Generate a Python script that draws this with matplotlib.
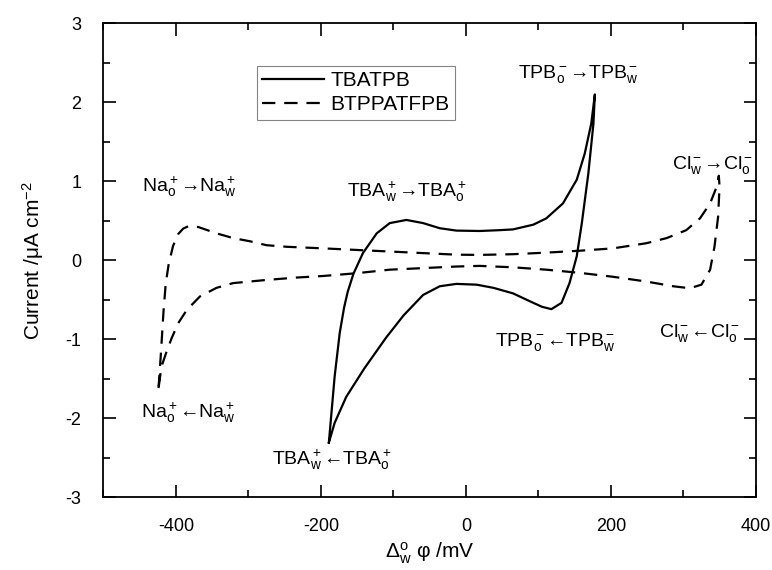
import matplotlib
matplotlib.use('Agg')
import matplotlib.pyplot as plt
from matplotlib.ticker import MultipleLocator

plt.rcParams['font.family'] = ['Liberation Sans', 'DejaVu Sans']
plt.rcParams['mathtext.fontset'] = 'custom'
plt.rcParams['mathtext.rm'] = 'Liberation Sans'
plt.rcParams['mathtext.it'] = 'Liberation Sans:italic'
plt.rcParams['mathtext.bf'] = 'Liberation Sans:bold'
plt.rcParams['axes.unicode_minus'] = False

# TBATPB cycle (mV, uA cm-2), starting at the negative end
tba_x = [-189, -185, -181, -174, -168, -163, -155, -142, -123, -105, -82, -59, -36, -13,
         19, 45, 65, 93, 111, 134, 153, 164, 173, 178,
         176, 169, 160, 153, 143, 132, 118, 105, 93, 65, 38, 15, -13, -36, -59, -86,
         -110, -140, -165, -181, -189]
tba_y = [-2.31, -1.89, -1.47, -0.92, -0.60, -0.40, -0.17, 0.09, 0.34, 0.47, 0.51, 0.47, 0.405, 0.375,
         0.37, 0.38, 0.39, 0.45, 0.53, 0.72, 1.02, 1.35, 1.73, 2.10,
         1.73, 1.10, 0.47, 0.05, -0.29, -0.54, -0.62, -0.59, -0.54, -0.42, -0.35, -0.31, -0.30, -0.33, -0.44,
         -0.70, -0.98, -1.37, -1.73, -2.06, -2.31]

# BTPPATFPB cycle
btp_x = [-424, -421, -417, -414, -410, -404, -397, -390, -383, -369, -344, -321, -298, -275, -247,
         -197, -151, -105, -59, -13, 19, 65, 111, 157, 203, 249, 277, 304, 323, 337, 346, 349,
         350, 348, 343, 337, 325, 309, 286, 249, 203, 157, 111, 65, 19, -13, -59, -105, -151,
         -197, -234, -275, -298, -321, -344, -367, -385, -397, -406, -413, -420, -424]
btp_y = [-1.62, -1.22, -0.63, -0.29, -0.05, 0.18, 0.33, 0.40, 0.43, 0.42, 0.34, 0.28, 0.24, 0.19, 0.17,
         0.15, 0.13, 0.11, 0.09, 0.07, 0.067, 0.076, 0.096, 0.12, 0.15, 0.215, 0.28, 0.38, 0.53, 0.72, 0.93, 1.07,
         0.93, 0.55, 0.17, -0.12, -0.31, -0.355, -0.33, -0.27, -0.21, -0.16, -0.12, -0.09, -0.072, -0.08, -0.10, -0.12, -0.165,
         -0.20, -0.22, -0.25, -0.27, -0.29, -0.35, -0.46, -0.63, -0.80, -0.99, -1.16, -1.35, -1.62]

labels = [r'Na$^+_\mathrm{o}$→Na$^+_\mathrm{w}$',
          r'TBA$^+_\mathrm{w}$→TBA$^+_\mathrm{o}$',
          r'TPB$^-_\mathrm{o}$→TPB$^-_\mathrm{w}$',
          r'Cl$^-_\mathrm{w}$→Cl$^-_\mathrm{o}$',
          r'Cl$^-_\mathrm{w}$←Cl$^-_\mathrm{o}$',
          r'TPB$^-_\mathrm{o}$←TPB$^-_\mathrm{w}$',
          r'Na$^+_\mathrm{o}$←Na$^+_\mathrm{w}$',
          r'TBA$^+_\mathrm{w}$←TBA$^+_\mathrm{o}$']
label_x = [-381, -81, 155, 340, 322, 124, -383, -185]
label_y = [0.93, 0.86, 2.36, 1.21, -0.92, -1.03, -1.93, -2.53]

fig = plt.figure(figsize=(7.72, 5.70), dpi=100)
ax = fig.add_axes([0.134, 0.128, 0.845, 0.831])

ax.plot(tba_x, tba_y, 'k-', lw=1.6, label='TBATPB')
ax.plot(btp_x, btp_y, 'k--', lw=1.6, dashes=(6, 4), label='BTPPATFPB')

for s, x, y in zip(labels, label_x, label_y):
    ax.text(x, y, s, fontsize=14, ha='center', va='center')

ax.set_xlim(-500, 400)
ax.set_ylim(-3, 3)
ax.xaxis.set_major_locator(MultipleLocator(200))
ax.xaxis.set_minor_locator(MultipleLocator(100))
ax.yaxis.set_major_locator(MultipleLocator(1))
ax.yaxis.set_minor_locator(MultipleLocator(0.5))
ax.tick_params(which='both', direction='in', top=True, right=True, labelsize=13, width=1.2)
ax.tick_params(which='major', length=9)
ax.tick_params(axis='x', which='major', pad=15)
ax.tick_params(axis='y', which='major', pad=16)
ax.tick_params(which='minor', length=5)
for sp in ax.spines.values():
    sp.set_linewidth(1.3)

ax.set_xlabel(r'$\Delta^\mathrm{o}_\mathrm{w}$ φ /mV', fontsize=15, labelpad=4)
ax.set_ylabel(r'Current /μA cm$^{-2}$', fontsize=15, labelpad=14)

leg = ax.legend(loc='upper left', bbox_to_anchor=(0.235, 0.91), fontsize=15, frameon=True,
                fancybox=False, edgecolor='0.4', handlelength=3.0, borderpad=0.25,
                labelspacing=0.25, handletextpad=0.3, borderaxespad=0)
leg.get_frame().set_linewidth(0.8)

fig.savefig('out.png', dpi=100)
